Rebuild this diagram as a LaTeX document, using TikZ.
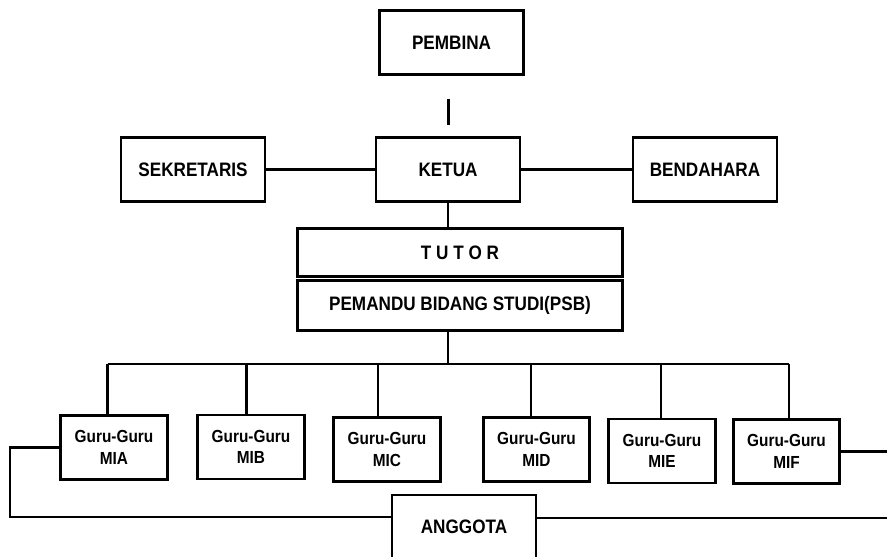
\documentclass[tikz,border=0pt]{standalone}
\usepackage{fontspec}
\newfontfamily\orgfont{Liberation Sans}[FakeStretch=0.88]
\begin{document}
\begin{tikzpicture}[x=0.75pt,y=-0.75pt,line width=2.2pt,
    unit/.style={draw,inner sep=0pt,align=center,minimum width=108pt,minimum height=48pt,
      font=\orgfont\bfseries\fontsize{14.6}{17}\selectfont},
    wide/.style={unit,minimum width=244pt,minimum height=35.5pt},
    guru/.style={unit,minimum width=80pt,minimum height=48pt,
      font=\orgfont\bfseries\fontsize{13.1}{16}\selectfont}]
      \useasboundingbox (0,0) rectangle (887,556);
      \draw
        (451.5,42.5) node[unit] (pembina){PEMBINA}
        (193,169.5) node[unit] (sekretaris){SEKRETARIS}
        (448,169.5) node[unit] (ketua){KETUA}
        (705,169.5) node[unit] (bendahara){BENDAHARA}
        (460,252.5) node[wide] (tutor){T U T O R}
        (460,305.5) node[wide,minimum height=37pt] (psb){PEMANDU BIDANG STUDI(PSB)}
        (114,447.5) node[guru] (mia){Guru-Guru\\MIA}
        (251,447) node[guru] (mib){Guru-Guru\\MIB}
        (387,449.5) node[guru] (mic){Guru-Guru\\MIC}
        (536.5,449.5) node[guru] (mid){Guru-Guru\\MID}
        (662,451) node[guru] (mie){Guru-Guru\\MIE}
        (786.5,451.5) node[guru] (mif){Guru-Guru\\MIF}
        (464,527) node[unit] (anggota){ANGGOTA};
      \coordinate (top1) at (448.5,99);
      \coordinate (top2) at (448.5,125);
      \coordinate (bus) at (448,364);
      \coordinate (b1) at (107.5,364);
      \coordinate (b2) at (246.5,364);
      \coordinate (b3) at (378,364);
      \coordinate (b4) at (531,364);
      \coordinate (b5) at (661,364);
      \coordinate (b6) at (789,364);
      \coordinate (lfb) at (10,517);
      \coordinate (rgt) at (887,447);
      \coordinate (rgb) at (887,518);
      \begin{scope}[-]
        \draw (top1) to (top2);
        \draw (sekretaris) to (ketua);
        \draw (ketua) to (bendahara);
        \draw (ketua.south) to (ketua.south |- tutor.north);
        \draw (psb.south -| bus) to (bus);
        \draw (b1) to (b6);
        \draw (b1) to (b1 |- mia.north);
        \draw (b2) to (b2 |- mib.north);
        \draw (b3) to (b3 |- mic.north);
        \draw (b4) to (b4 |- mid.north);
        \draw (b5) to (b5 |- mie.north);
        \draw (b6) to (b6 |- mif.north);
        \draw (mia.west) -| (lfb) -- (lfb -| anggota.west);
        \draw (anggota.east |- rgb) to (rgb);
        \draw (mif.east) to (mif.east -| rgt);
      \end{scope}
    \end{tikzpicture}
\end{document}
